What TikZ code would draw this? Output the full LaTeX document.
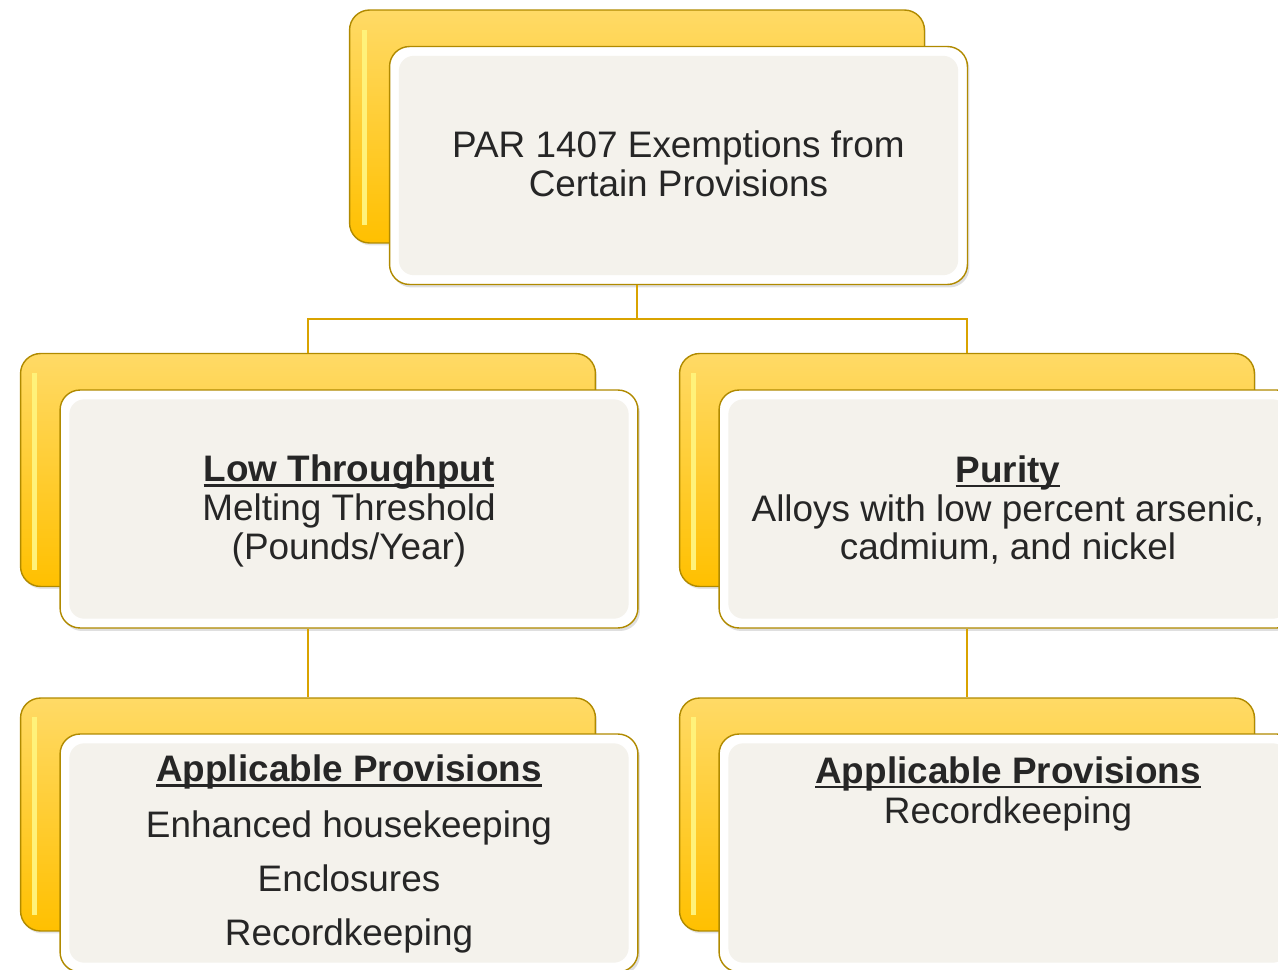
\documentclass[tikz,border=0pt]{standalone}
\usepackage{fontspec}
\setmainfont{Liberation Sans}
\usetikzlibrary{shadows}
\definecolor{gold}{HTML}{FFC000}
\definecolor{lightgold}{HTML}{FFDA66}
\definecolor{goldline}{HTML}{B08A00}
\definecolor{stripe}{HTML}{FFF27A}
\definecolor{paper}{HTML}{F4F2EC}
\definecolor{ink}{HTML}{262626}
\newcommand{\undl}[1]{\setbox0\hbox{\textbf{#1}}\rlap{\rule[-0.13em]{\wd0}{0.07em}}\box0}
\tikzset{
	backbox/.style={draw=goldline, line width=0.8pt, rounded corners=0.4cm, top color=lightgold, bottom color=gold, minimum width=11.5cm, minimum height=4.66cm, inner sep=0pt, drop shadow={opacity=0.2, shadow xshift=0.03cm, shadow yshift=-0.05cm}},
	frontbox/.style={draw=goldline, line width=0.8pt, rounded corners=0.4cm, fill=white, minimum width=11.56cm, minimum height=4.76cm, inner sep=0pt, drop shadow={opacity=0.25, shadow xshift=0.04cm, shadow yshift=-0.06cm}},
	panel/.style={fill=paper, rounded corners=0.3cm},
	boxtext/.style={align=center, text=ink, inner sep=0pt, font=\fontsize{21}{22}\selectfont},
	link/.style={draw=gold!85!black, line width=1.1pt}
}
\begin{document}
\begin{tikzpicture}[x=0.02cm, y=-0.02cm]
	\useasboundingbox (0,0) rectangle (1278,970);
	\node [backbox] (topback) at (637,126.5) {};
	\fill [stripe] (362,30) rectangle (367,225);
	\node [frontbox] (top) at (678.5,165.5) {};
	\fill [panel] ([shift={(0.2cm,-0.2cm)}]top.north west) rectangle ([shift={(-0.2cm,0.2cm)}]top.south east);
	\node [boxtext] (toptext) at (678.5,164) {PAR 1407 Exemptions from\\Certain Provisions};

	\node [backbox] (lowback) at (308,470) {};
	\fill [stripe] (32,373) rectangle (37,570);
	\node [frontbox] (low) at (349,509) {};
	\fill [panel] ([shift={(0.2cm,-0.2cm)}]low.north west) rectangle ([shift={(-0.2cm,0.2cm)}]low.south east);
	\node [boxtext] (lowtext) at (349,511) {\undl{Low Throughput}\\Melting Threshold\\(Pounds/Year)};

	\node [backbox] (pureback) at (967,470) {};
	\fill [stripe] (691,373) rectangle (696,570);
	\node [frontbox] (pure) at (1008,509) {};
	\fill [panel] ([shift={(0.2cm,-0.2cm)}]pure.north west) rectangle ([shift={(-0.2cm,0.2cm)}]pure.south east);
	\node [boxtext] (puretext) at (1008,510) {\undl{Purity}\\Alloys with low percent arsenic,\\cadmium, and nickel};

	\node [backbox] (lowprovback) at (308,814.5) {};
	\fill [stripe] (32,717) rectangle (37,915);
	\node [frontbox] (lowprov) at (349,853) {};
	\fill [panel] ([shift={(0.2cm,-0.2cm)}]lowprov.north west) rectangle ([shift={(-0.2cm,0.2cm)}]lowprov.south east);
	\node [boxtext] (lowprovtext) at (349,854) {\undl{Applicable Provisions}\\[9.5pt]Enhanced housekeeping\\[9pt]Enclosures\\[8.5pt]Recordkeeping};

	\node [backbox] (pureprovback) at (967,814.5) {};
	\fill [stripe] (691,717) rectangle (696,915);
	\node [frontbox] (pureprov) at (1008,853) {};
	\fill [panel] ([shift={(0.2cm,-0.2cm)}]pureprov.north west) rectangle ([shift={(-0.2cm,0.2cm)}]pureprov.south east);
	\node [boxtext] (pureprovtext) at (1008,794) {\undl{Applicable Provisions}\\[1pt]Recordkeeping};

	\draw [link] (topback.south |- top.south) -- ++(0,34) coordinate (fork) -| (lowback.north);
	\draw [link] (fork) -| (pureback.north);
	\draw [link] (lowback.south |- low.south) -- (lowprovback.north);
	\draw [link] (pureback.south |- pure.south) -- (pureprovback.north);
\end{tikzpicture}
\end{document}
